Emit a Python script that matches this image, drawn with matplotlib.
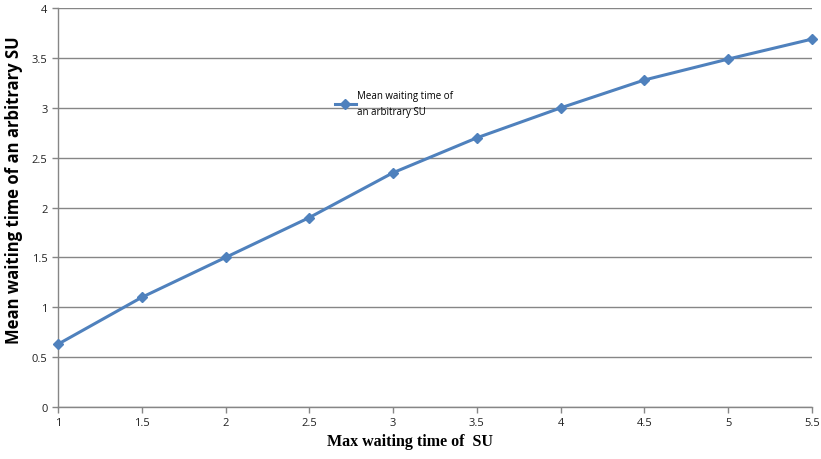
import matplotlib
matplotlib.use('Agg')
import matplotlib.pyplot as plt

# values
max_wait = [1, 1.5, 2, 2.5, 3, 3.5, 4, 4.5, 5, 5.5]
mean_wait = [0.63, 1.10, 1.50, 1.90, 2.35, 2.70, 3.00, 3.28, 3.49, 3.69]
x_ticks = [1, 1.5, 2, 2.5, 3, 3.5, 4, 4.5, 5, 5.5]
x_tick_labels = ['1', '1.5', '2', '2.5', '3', '3.5', '4', '4.5', '5', '5.5']
y_ticks = [0, 0.5, 1, 1.5, 2, 2.5, 3, 3.5, 4]
y_tick_labels = ['0', '0.5', '1', '1.5', '2', '2.5', '3', '3.5', '4']

LINE = '#4F81BD'
GRID = '#868686'

fig = plt.figure(figsize=(8.21, 4.6), dpi=100)
ax = fig.add_axes([0.0706, 0.113, 0.9184, 0.867])

ax.plot(max_wait, mean_wait, '-', color=LINE, lw=2.2, marker='D', ms=5.5,
        label='Mean waiting time of\nan arbitrary SU', clip_on=False, zorder=5)

ax.set_xlim(1, 5.5)
ax.set_ylim(0, 4)
ax.set_xticks(x_ticks)
ax.set_xticklabels(x_tick_labels)
ax.set_yticks(y_ticks)
ax.set_yticklabels(y_tick_labels)

ax.yaxis.grid(True, color=GRID, lw=1.0)
ax.set_axisbelow(True)
for s in ['top', 'right']:
    ax.spines[s].set_visible(False)
for s in ['left', 'bottom']:
    ax.spines[s].set_color(GRID)
    ax.spines[s].set_linewidth(1.0)
ax.tick_params(axis='both', colors=GRID, length=4, width=1.0,
               labelcolor='#222222', labelsize=8)
for lab in ax.get_xticklabels() + ax.get_yticklabels():
    lab.set_family('Open Sans')

ax.set_xlabel('Max waiting time of  SU', family='Liberation Serif',
              fontweight='bold', fontsize=11.5)
ax.set_ylabel('Mean waiting time of an arbitrary SU', family='Open Sans',
              fontweight='bold', fontsize=12)
ax.xaxis.set_label_coords(0.467, -0.065)
ax.yaxis.set_label_coords(-0.047, 0.546)

ax.legend(loc='upper left', bbox_to_anchor=(0.367, 0.795), frameon=False,
          prop={'family': 'Open Sans', 'size': 7}, handlelength=2.2,
          handletextpad=0.1, borderaxespad=0, borderpad=0)
for t in ax.get_legend().get_texts():
    t.set_linespacing(1.6)

fig.savefig('out.png', dpi=100)
